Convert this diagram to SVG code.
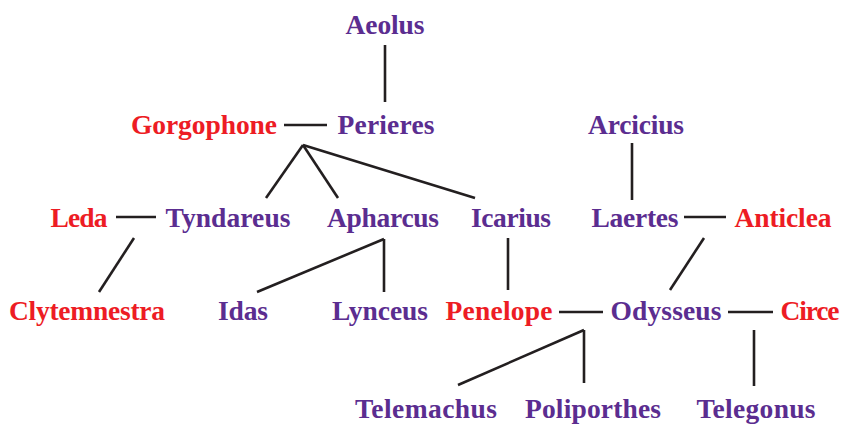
<svg xmlns="http://www.w3.org/2000/svg" width="842" height="425" viewBox="0 0 842 425">
<style>
text{font-family:"Liberation Serif","DejaVu Serif",serif;font-weight:bold;font-size:27.5px;text-anchor:middle}
.m{fill:#5b2d90}
.f{fill:#ed1c24}
#edges line{stroke:#231f20;stroke-width:2.6;stroke-linecap:butt}
</style>
<rect width="842" height="425" fill="#fff"/>
<g id="edges">
<line x1="385" y1="45" x2="385" y2="102"/>
<line x1="284" y1="125" x2="327" y2="125"/>
<line x1="303" y1="145" x2="266" y2="198"/>
<line x1="303" y1="145" x2="338" y2="198"/>
<line x1="303" y1="145" x2="475" y2="198"/>
<line x1="632" y1="143" x2="632" y2="200"/>
<line x1="116" y1="217" x2="156" y2="217"/>
<line x1="684" y1="217" x2="726" y2="217"/>
<line x1="134" y1="238" x2="99" y2="292"/>
<line x1="384" y1="239" x2="257" y2="292"/>
<line x1="384" y1="239" x2="384" y2="292"/>
<line x1="508" y1="238" x2="508" y2="290"/>
<line x1="704" y1="238" x2="670" y2="290"/>
<line x1="559" y1="312" x2="603" y2="312"/>
<line x1="728" y1="312" x2="773" y2="312"/>
<line x1="584" y1="330" x2="458" y2="385"/>
<line x1="584" y1="330" x2="584" y2="383"/>
<line x1="754" y1="330" x2="754" y2="386"/>
</g>
<g id="aeolus"><text class="m" x="385" y="34" textLength="79">Aeolus</text></g>
<g id="gorgophone"><text class="f" x="204" y="134" textLength="146">Gorgophone</text></g>
<g id="perieres"><text class="m" x="386" y="134" textLength="97">Perieres</text></g>
<g id="arcicius"><text class="m" x="636" y="134" textLength="96">Arcicius</text></g>
<g id="leda"><text class="f" x="79" y="227" textLength="57">Leda</text></g>
<g id="tyndareus"><text class="m" x="228" y="227" textLength="125">Tyndareus</text></g>
<g id="apharcus"><text class="m" x="383" y="227" textLength="112">Apharcus</text></g>
<g id="icarius"><text class="m" x="511" y="227" textLength="80">Icarius</text></g>
<g id="laertes"><text class="m" x="635" y="227" textLength="87">Laertes</text></g>
<g id="anticlea"><text class="f" x="783" y="227" textLength="97">Anticlea</text></g>
<g id="clytemnestra"><text class="f" x="87" y="320" textLength="156">Clytemnestra</text></g>
<g id="idas"><text class="m" x="243" y="320" textLength="50">Idas</text></g>
<g id="lynceus"><text class="m" x="380" y="320" textLength="96">Lynceus</text></g>
<g id="penelope"><text class="f" x="499" y="320" textLength="107">Penelope</text></g>
<g id="odysseus"><text class="m" x="666" y="320" textLength="111">Odysseus</text></g>
<g id="circe"><text class="f" x="810" y="320" textLength="59">Circe</text></g>
<g id="telemachus"><text class="m" x="426" y="418" textLength="142">Telemachus</text></g>
<g id="poliporthes"><text class="m" x="593" y="418" textLength="136">Poliporthes</text></g>
<g id="telegonus"><text class="m" x="756" y="418" textLength="119">Telegonus</text></g>
</svg>
